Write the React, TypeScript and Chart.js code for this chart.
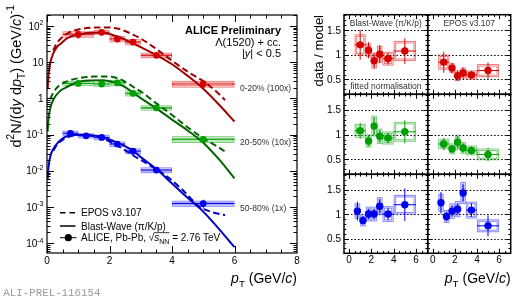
import React, { useEffect, useRef } from "react";
import { Chart, registerables } from "chart.js";

Chart.register(...registerables);

const FONT = '"Liberation Sans", Arial, sans-serif';
const MONO = '"Liberation Mono", "DejaVu Sans Mono", monospace';

// ---------------- data ----------------
const classLabels = ["0-20% (100x)", "20-50% (10x)", "50-80% (1x)"];

const ptRG = [1.0, 1.75, 2.25, 2.75, 3.5, 5.0];
const binLoRG = [0.5, 1.5, 2.0, 2.5, 3.0, 4.0];
const binHiRG = [1.5, 2.0, 2.5, 3.0, 4.0, 6.0];
const ptB = [0.75, 1.25, 1.75, 2.25, 2.75, 3.5, 5.0];
const binLoB = [0.5, 1.0, 1.5, 2.0, 2.5, 3.0, 4.0];
const binHiB = [1.0, 1.5, 2.0, 2.5, 3.0, 4.0, 6.0];

const yield0020 = [59, 67, 44, 36, 15.5, 2.5];
const yield2050 = [2.6, 2.5, 2.7, 1.38, 0.55, 0.074];
const yield5080 = [0.109, 0.093, 0.084, 0.055, 0.035, 0.0105, 0.00125];

const sysRel0020 = [0.17, 0.12, 0.17, 0.16, 0.14, 0.18];
const statRel0020 = [0.25, 0.15, 0.18, 0.18, 0.13, 0.24];
const sysRel2050 = [0.12, 0.14, 0.17, 0.15, 0.13, 0.18];
const statRel2050 = [0.15, 0.12, 0.15, 0.13, 0.12, 0.22];
const sysRel5080 = [0.14, 0.13, 0.14, 0.14, 0.15, 0.15, 0.16];
const statRel5080 = [0.18, 0.1, 0.1, 0.1, 0.12, 0.13, 0.28];

const ratioBW0020 = [1.2, 1.09, 0.88, 1.01, 0.92, 1.075];
const ratioEPOS0020 = [0.85, 0.73, 0.575, 0.63, 0.59, 0.68];
const ratioBW2050 = [1.075, 0.87, 1.17, 0.965, 0.93, 1.055];
const ratioEPOS2050 = [0.81, 0.71, 0.845, 0.73, 0.68, 0.6];
const ratioBW5080 = [1.06, 0.87, 1.0, 1.0, 1.16, 1.0, 1.19];
const ratioEPOS5080 = [1.23, 0.95, 1.06, 1.1, 1.43, 1.08, 0.76];

// Blast-Wave curves (solid)
const bwPt0020 = [0.02, 0.05, 0.1, 0.2, 0.3, 0.45, 0.65, 1.0, 1.4, 1.75, 2.0, 2.5, 3.0, 3.5, 4.0, 4.5, 5.0, 5.5, 6.0];
const bwVal0020 = [1.8, 4.6, 9.2, 17.5, 25, 33, 46, 58, 65, 65, 60, 42, 26, 15.8, 8.8, 4.2, 1.86, 0.68, 0.23];
const bwPt2050 = [0.02, 0.05, 0.1, 0.2, 0.4, 0.65, 1.0, 1.4, 1.75, 2.0, 2.25, 2.5, 2.75, 3.0, 3.5, 4.0, 4.5, 5.0, 5.5, 6.0];
const bwVal2050 = [0.12, 0.28, 0.52, 0.92, 1.55, 2.1, 2.85, 3.15, 3.2, 3.0, 2.6, 2.05, 1.45, 1.02, 0.53, 0.26, 0.13, 0.06, 0.021, 0.0062];
const bwPt5080 = [0.02, 0.05, 0.1, 0.25, 0.5, 0.75, 1.0, 1.25, 1.75, 2.25, 2.75, 3.0, 3.5, 4.0, 4.5, 5.0, 5.5, 6.0];
const bwVal5080 = [0.006, 0.013, 0.024, 0.047, 0.079, 0.096, 0.1, 0.098, 0.086, 0.06, 0.036, 0.024, 0.0112, 0.0045, 0.0018, 0.00075, 0.00025, 0.000078];

// EPOS curves (dashed)
const epPt0020 = [0.2, 0.3, 0.45, 0.65, 1.0, 1.4, 1.8, 2.25, 2.75, 3.0, 3.5, 4.0, 4.5, 5.0, 5.4, 5.7];
const epVal0020 = [21, 32, 46, 62, 80, 89, 91, 85, 58, 45, 23, 11, 5.5, 3.0, 1.6, 0.9];
const epPt2050 = [0.1, 0.2, 0.4, 0.7, 1.0, 1.5, 1.9, 2.3, 2.75, 3.1, 3.5, 4.0, 4.5, 5.0, 5.4, 5.7];
const epVal2050 = [0.95, 1.45, 2.3, 3.1, 3.6, 4.0, 4.0, 3.5, 2.1, 1.35, 0.73, 0.35, 0.16, 0.08, 0.05, 0.034];
const epPt5080 = [0.2, 0.3, 0.5, 0.75, 1.0, 1.25, 1.75, 2.25, 2.75, 3.25, 3.85, 4.3, 4.9, 5.3, 5.7];
const epVal5080 = [0.036, 0.05, 0.072, 0.09, 0.098, 0.097, 0.08, 0.05, 0.027, 0.015, 0.0069, 0.0032, 0.001, 0.00072, 0.0006];

// tick labels
const yTickExpsLeft = [-4, -3, -2, -1, 0, 1, 2];
const xTicksLeft = [0, 2, 4, 6, 8];
const xTicksRight = [0, 2, 4, 6];
const yTicksRight = [0.5, 1, 1.5];
const panelTitles = ["Blast-Wave (\u03c0/K/p)", "EPOS v3.107"];

// ---------------- styles ----------------
const COLORS = [
  { mark: "#d40000", line: "#a00000", box: "rgba(225,40,40,0.6)" },
  { mark: "#00a000", line: "#006400", box: "rgba(40,170,40,0.6)" },
  { mark: "#0000f0", line: "#0000c8", box: "rgba(60,60,255,0.6)" },
];

const classes = [
  { label: classLabels[0], pt: ptRG, lo: binLoRG, hi: binHiRG, y: yield0020, sys: sysRel0020, stat: statRel0020, bwPt: bwPt0020, bwVal: bwVal0020, epPt: epPt0020, epVal: epVal0020, rBW: ratioBW0020, rEP: ratioEPOS0020 },
  { label: classLabels[1], pt: ptRG, lo: binLoRG, hi: binHiRG, y: yield2050, sys: sysRel2050, stat: statRel2050, bwPt: bwPt2050, bwVal: bwVal2050, epPt: epPt2050, epVal: epVal2050, rBW: ratioBW2050, rEP: ratioEPOS2050 },
  { label: classLabels[2], pt: ptB, lo: binLoB, hi: binHiB, y: yield5080, sys: sysRel5080, stat: statRel5080, bwPt: bwPt5080, bwVal: bwVal5080, epPt: epPt5080, epVal: epVal5080, rBW: ratioBW5080, rEP: ratioEPOS5080 },
];

type Seg = { t: string; i?: boolean; b?: boolean; sub?: boolean; sup?: boolean };
type ErrItem = { x: number; lo: number; hi: number; y: number; sys: number; stat: number; color: string; box: string };

function drawRich(
  ctx: CanvasRenderingContext2D,
  segs: Seg[],
  x: number,
  y: number,
  size: number,
  align: "left" | "right" | "center",
  color: string,
  family: string = FONT
): number[] {
  const f = (s: Seg) => `${s.i ? "italic " : ""}${s.b ? "bold " : ""}${s.sub || s.sup ? size * 0.7 : size}px ${family}`;
  const ws = segs.map((s) => {
    ctx.font = f(s);
    return ctx.measureText(s.t).width;
  });
  const total = ws.reduce((a, b) => a + b, 0);
  let cx = align === "left" ? x : align === "right" ? x - total : x - total / 2;
  const xs: number[] = [];
  ctx.fillStyle = color;
  ctx.textAlign = "left";
  ctx.textBaseline = "alphabetic";
  segs.forEach((s, k) => {
    ctx.font = f(s);
    const dy = s.sub ? size * 0.28 : s.sup ? -size * 0.42 : 0;
    xs.push(cx);
    ctx.fillText(s.t, cx, y + dy);
    cx += ws[k];
  });
  xs.push(cx);
  return xs;
}

function drawErrs(chart: any, items: ErrItem[]) {
  const { ctx, scales, chartArea: a } = chart;
  const xs = scales.x, ys = scales.y;
  ctx.save();
  ctx.beginPath();
  ctx.rect(a.left, a.top, a.right - a.left, a.bottom - a.top);
  ctx.clip();
  ctx.lineWidth = 1;
  for (const it of items) {
    const x0 = xs.getPixelForValue(it.lo);
    const x1 = xs.getPixelForValue(it.hi);
    const yT = ys.getPixelForValue(it.y * (1 + it.sys));
    const yB = ys.getPixelForValue(it.y * (1 - it.sys));
    ctx.strokeStyle = it.box;
    ctx.strokeRect(x0 + 0.5, yT, x1 - x0 - 1, yB - yT);
    ctx.strokeRect(x0 + 2, yT + 1.5, x1 - x0 - 4, Math.max(0.5, yB - yT - 3));
    const py = ys.getPixelForValue(it.y);
    const px = xs.getPixelForValue(it.x);
    ctx.strokeStyle = it.color;
    ctx.beginPath();
    ctx.moveTo(x0, py);
    ctx.lineTo(x1, py);
    ctx.moveTo(px, ys.getPixelForValue(it.y * (1 - it.stat)));
    ctx.lineTo(px, ys.getPixelForValue(it.y * (1 + it.stat)));
    ctx.stroke();
  }
  ctx.restore();
}

function drawFrame(
  chart: any,
  t: { xMaj: number[]; xMin: number[]; yMaj: number[]; yMin: number[]; maj: number; min: number; lw: number }
) {
  const { ctx, scales, chartArea: a } = chart;
  const L = a.left, R = a.right, T = a.top, B = a.bottom;
  ctx.save();
  ctx.strokeStyle = "#000";
  ctx.lineWidth = 1;
  ctx.setLineDash([]);
  ctx.beginPath();
  const xt = (v: number, len: number) => {
    const p = Math.round(scales.x.getPixelForValue(v)) + 0.5;
    if (p < L - 0.1 || p > R + 0.1) return;
    ctx.moveTo(p, B);
    ctx.lineTo(p, B - len);
    ctx.moveTo(p, T);
    ctx.lineTo(p, T + len);
  };
  const yt = (v: number, len: number) => {
    const p = Math.round(scales.y.getPixelForValue(v)) + 0.5;
    if (p < T - 0.1 || p > B + 0.1) return;
    ctx.moveTo(L, p);
    ctx.lineTo(L + len, p);
    ctx.moveTo(R, p);
    ctx.lineTo(R - len, p);
  };
  t.xMaj.forEach((v) => xt(v, t.maj));
  t.xMin.forEach((v) => xt(v, t.min));
  t.yMaj.forEach((v) => yt(v, t.maj));
  t.yMin.forEach((v) => yt(v, t.min));
  ctx.stroke();
  ctx.lineWidth = t.lw;
  ctx.strokeRect(L, T, R - L, B - T);
  ctx.restore();
}

function baseOptions(pad: any, xMin: number, xMax: number, yType: string, yMin: number, yMax: number): any {
  return {
    responsive: false,
    animation: false,
    events: [],
    layout: { padding: pad },
    plugins: { legend: { display: false }, tooltip: { enabled: false }, title: { display: false } },
    scales: {
      x: { type: "linear", min: xMin, max: xMax, display: false },
      y: { type: yType, min: yMin, max: yMax, display: false },
    },
  };
}

const LEFT_Y_MIN = 5.4e-5;
const LEFT_Y_MAX = 201;

function leftConfig(): any {
  const datasets: any[] = [];
  const errs: ErrItem[] = [];
  classes.forEach((c, k) => {
    const col = COLORS[k];
    datasets.push({
      data: c.pt.map((x, i) => ({ x, y: c.y[i] })),
      showLine: false,
      pointRadius: 3.4,
      pointBorderWidth: 0,
      pointBackgroundColor: col.mark,
      pointBorderColor: col.mark,
      order: 0,
    });
    datasets.push({
      data: c.bwPt.map((x, i) => ({ x, y: c.bwVal[i] })),
      borderColor: col.line,
      borderWidth: 2,
      pointRadius: 0,
      cubicInterpolationMode: "monotone",
      order: 1,
    });
    datasets.push({
      data: c.epPt.map((x, i) => ({ x, y: c.epVal[i] })),
      borderColor: col.line,
      borderWidth: 2,
      borderDash: [6.5, 3.5],
      pointRadius: 0,
      cubicInterpolationMode: "monotone",
      order: 1,
    });
    c.pt.forEach((x, i) =>
      errs.push({ x, lo: c.lo[i], hi: c.hi[i], y: c.y[i], sys: c.sys[i], stat: c.stat[i], color: col.mark, box: col.box })
    );
  });

  const yMaj: number[] = [];
  const yMin: number[] = [];
  for (let d = -5; d <= 2; d++) {
    for (let m = 1; m <= 9; m++) {
      const v = m * Math.pow(10, d);
      if (v < LEFT_Y_MIN || v > LEFT_Y_MAX) continue;
      (m === 1 ? yMaj : yMin).push(v);
    }
  }
  const xMin: number[] = [];
  for (let v = 0.5; v < 8; v += 0.5) if (v % 2 !== 0) xMin.push(v);

  const plugin = {
    id: "leftDeco",
    beforeDatasetsDraw(chart: any) {
      drawErrs(chart, errs);
    },
    afterDraw(chart: any) {
      const { ctx, scales } = chart;
      drawFrame(chart, { xMaj: xTicksLeft, xMin, yMaj, yMin, maj: 7, min: 3.5, lw: 1.2 });
      ctx.save();
      // y tick labels
      yTickExpsLeft.forEach((e) => {
        const py = scales.y.getPixelForValue(Math.pow(10, e));
        const segs: Seg[] = e === 0 ? [{ t: "1" }] : e === 1 ? [{ t: "10" }] : [{ t: "10" }, { t: String(e), sup: true }];
        drawRich(ctx, segs, 43.5, py + 3.6, 10, "right", "#000");
      });
      // x tick labels
      xTicksLeft.forEach((v) => {
        const px = scales.x.getPixelForValue(v);
        drawRich(ctx, [{ t: String(v) }], px, 264, 10, "center", "#000");
      });
      // x title
      drawRich(ctx, [{ t: "p", i: true }, { t: "T", sub: true }, { t: " (GeV/" }, { t: "c", i: true }, { t: ")" }], 297, 283, 14, "right", "#000");
      // y title
      ctx.save();
      ctx.translate(20.5, 5);
      ctx.rotate(-Math.PI / 2);
      drawRich(
        ctx,
        [
          { t: "d" },
          { t: "2", sup: true },
          { t: "N/(d" },
          { t: "y", i: true },
          { t: " d" },
          { t: "p", i: true },
          { t: "T", sub: true },
          { t: ") (GeV/" },
          { t: "c", i: true },
          { t: ")" },
          { t: "-1", sup: true },
        ],
        0,
        0,
        14.5,
        "right",
        "#000"
      );
      ctx.restore();
      // header
      drawRich(ctx, [{ t: "ALICE Preliminary", b: true }], 281, 34, 11, "right", "#000");
      drawRich(ctx, [{ t: "\u039b(1520) + cc." }], 281, 45.8, 11, "right", "#000");
      drawRich(ctx, [{ t: "|" }, { t: "y", i: true }, { t: "| < 0.5" }], 281, 57, 11, "right", "#000");
      // class labels
      const labelY = [91.4, 144.8, 210.8];
      classes.forEach((c, k) => drawRich(ctx, [{ t: c.label }], 240, labelY[k], 8.5, "left", "#333"));
      // legend
      ctx.strokeStyle = "#000";
      ctx.lineWidth = 1.5;
      ctx.setLineDash([5.5, 4]);
      ctx.beginPath();
      ctx.moveTo(60, 212.7);
      ctx.lineTo(75.5, 212.7);
      ctx.stroke();
      ctx.setLineDash([]);
      ctx.beginPath();
      ctx.moveTo(60, 226);
      ctx.lineTo(75.5, 226);
      ctx.stroke();
      ctx.lineWidth = 1;
      ctx.beginPath();
      ctx.moveTo(60, 237.7);
      ctx.lineTo(76.5, 237.7);
      ctx.stroke();
      ctx.fillStyle = "#000";
      ctx.beginPath();
      ctx.arc(68.3, 237.7, 3.6, 0, Math.PI * 2);
      ctx.fill();
      drawRich(ctx, [{ t: "EPOS v3.107" }], 81, 216.3, 10, "left", "#000");
      drawRich(ctx, [{ t: "Blast-Wave (\u03c0/K/p)" }], 81, 229.6, 10, "left", "#000");
      const xs = drawRich(
        ctx,
        [{ t: "ALICE, Pb-Pb, " }, { t: "\u221a" }, { t: "s", i: true }, { t: "NN", sub: true }, { t: " = 2.76 TeV" }],
        81,
        241.3,
        10,
        "left",
        "#000"
      );
      ctx.lineWidth = 0.8;
      ctx.beginPath();
      ctx.moveTo(xs[2] - 0.5, 241.3 - 8.6);
      ctx.lineTo(xs[4], 241.3 - 8.6);
      ctx.stroke();
      // preliminary id
      drawRich(ctx, [{ t: "ALI-PREL-116154" }], 3.3, 296, 10.8, "left", "#9a9a9a", MONO);
      ctx.restore();
    },
  };

  return {
    type: "line",
    data: { datasets },
    options: baseOptions({ left: 47, top: 15, right: 230, bottom: 46 }, 0, 8, "logarithmic", LEFT_Y_MIN, LEFT_Y_MAX),
    plugins: [plugin],
  };
}

const rowTops = [14.7, 94.3, 174.3];
const rowBottoms = [94.3, 174.3, 253.3];
const colLefts = [344, 427.7];
const colRights = [427.7, 510.7];
const R_X_MIN = -0.45;
const R_X_MAX = 7.05;
const R_Y_MIN = 0.2;
const R_Y_MAX = 1.81;

function rightConfig(row: number, col: number): any {
  const c = classes[row];
  const ratios = col === 0 ? c.rBW : c.rEP;
  const clr = COLORS[row];
  const errs: ErrItem[] = c.pt.map((x, i) => ({
    x,
    lo: c.lo[i],
    hi: c.hi[i],
    y: ratios[i],
    sys: c.sys[i],
    stat: c.stat[i],
    color: clr.mark,
    box: clr.box,
  }));
  const datasets = [
    {
      data: c.pt.map((x, i) => ({ x, y: ratios[i] })),
      showLine: false,
      pointRadius: 3.7,
      pointBorderWidth: 0,
      pointBackgroundColor: clr.mark,
      pointBorderColor: clr.mark,
    },
  ];
  const xMin: number[] = [];
  for (let v = -0.0; v <= 7.0001; v += 0.5) if (Math.abs(v % 2) > 1e-6) xMin.push(v);
  const yMin: number[] = [];
  for (let k = 2; k <= 18; k++) {
    const v = k / 10;
    if (k % 5 !== 0) yMin.push(v);
  }
  const plugin = {
    id: "rightDeco" + row + col,
    beforeDatasetsDraw(chart: any) {
      const { ctx, scales, chartArea: a } = chart;
      ctx.save();
      ctx.strokeStyle = "#000";
      ctx.lineWidth = 1;
      ctx.setLineDash([1.5, 2]);
      ctx.beginPath();
      yTicksRight.forEach((v) => {
        const p = Math.round(scales.y.getPixelForValue(v)) + 0.5;
        ctx.moveTo(a.left, p);
        ctx.lineTo(a.right, p);
      });
      ctx.stroke();
      ctx.restore();
      drawErrs(chart, errs);
    },
    afterDraw(chart: any) {
      const { ctx, scales, chartArea: a } = chart;
      drawFrame(chart, { xMaj: xTicksRight, xMin, yMaj: yTicksRight, yMin, maj: 4.5, min: 2.3, lw: 1.5 });
      ctx.save();
      if (col === 0) {
        yTicksRight.forEach((v) => {
          const py = scales.y.getPixelForValue(v);
          drawRich(ctx, [{ t: String(v) }], 341, py + 3.6, 10, "right", "#000");
        });
      }
      if (row === 2) {
        xTicksRight.forEach((v) => {
          const px = scales.x.getPixelForValue(v);
          drawRich(ctx, [{ t: String(v) }], px, 263.3, 10, "center", "#000");
        });
      }
      const cx = (a.left + a.right) / 2;
      if (row === 0) {
        drawRich(ctx, [{ t: panelTitles[col] }], cx, 26.3, 8.5, "center", "#333");
        if (col === 0) drawRich(ctx, [{ t: "fitted normalisation" }], cx, 88.8, 8.5, "center", "#333");
      }
      if (row === 0 && col === 0) {
        ctx.save();
        ctx.translate(323, 15);
        ctx.rotate(-Math.PI / 2);
        drawRich(ctx, [{ t: "data / model" }], 0, 0, 13, "right", "#000");
        ctx.restore();
      }
      if (row === 2 && col === 1) {
        drawRich(ctx, [{ t: "p", i: true }, { t: "T", sub: true }, { t: " (GeV/" }, { t: "c", i: true }, { t: ")" }], 510.7, 283, 14, "right", "#000");
      }
      ctx.restore();
    },
  };
  return {
    type: "line",
    data: { datasets },
    options: baseOptions(
      { left: colLefts[col], top: rowTops[row], right: 527 - colRights[col], bottom: 299 - rowBottoms[row] },
      R_X_MIN,
      R_X_MAX,
      "linear",
      R_Y_MIN,
      R_Y_MAX
    ),
    plugins: [plugin],
  };
}

const panels: [number, number][] = [
  [0, 0],
  [0, 1],
  [1, 0],
  [1, 1],
  [2, 0],
  [2, 1],
];

export default function App() {
  const refs = useRef<(HTMLCanvasElement | null)[]>([]);
  useEffect(() => {
    const charts: Chart[] = [];
    const c0 = refs.current[0];
    if (c0) charts.push(new Chart(c0, leftConfig()));
    panels.forEach(([r, c], i) => {
      const el = refs.current[i + 1];
      if (el) charts.push(new Chart(el, rightConfig(r, c)));
    });
    return () => charts.forEach((ch) => ch.destroy());
  }, []);
  return (
    <div style={{ position: "absolute", left: 0, top: 0, width: 527, height: 299, background: "#fff", overflow: "hidden" }}>
      {[0, 1, 2, 3, 4, 5, 6].map((i) => (
        <canvas
          key={i}
          ref={(el) => {
            refs.current[i] = el;
          }}
          width={527}
          height={299}
          style={{ position: "absolute", left: 0, top: 0, width: 527, height: 299 }}
        />
      ))}
    </div>
  );
}
